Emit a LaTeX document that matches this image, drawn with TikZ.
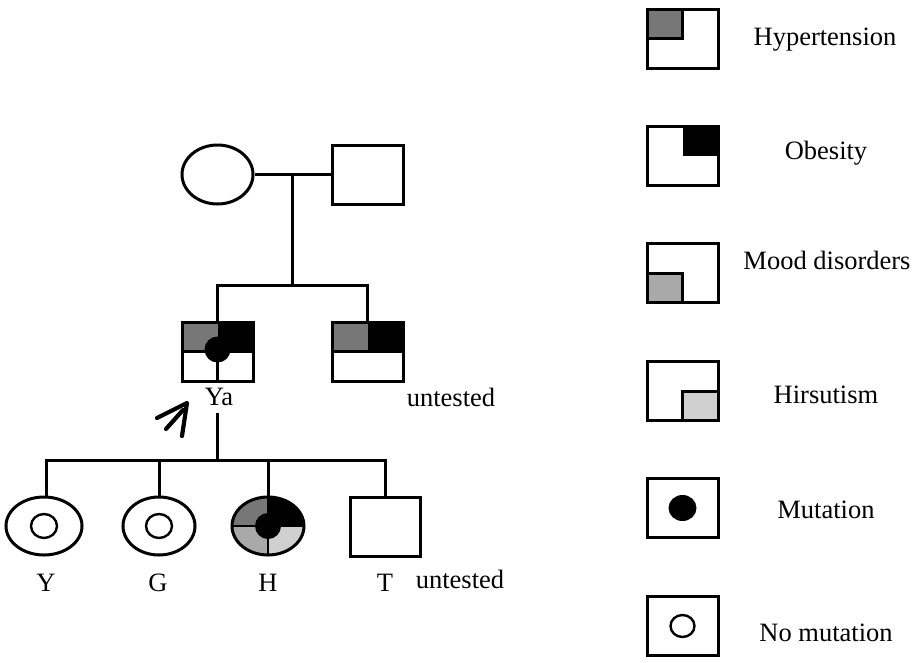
\documentclass[tikz,border=0pt]{standalone}
\usepackage{fontspec}
\setmainfont{Liberation Serif}
\usetikzlibrary{shapes.geometric}
\definecolor{hypc}{HTML}{777777}
\definecolor{moodc}{HTML}{A9A9A9}
\definecolor{hirc}{HTML}{D0D0D0}
\tikzset{
  ln/.style={line width=3pt},
  sq/.style={draw,line width=3pt,rectangle,minimum width=71pt,minimum height=59pt,inner sep=0pt},
  ov/.style={draw,line width=3pt,ellipse,minimum width=72pt,minimum height=58pt,inner sep=0pt},
  lbl/.style={font=\fontsize{26.5}{30}\selectfont,inner sep=0pt},
}
\newcommand{\PB}{path picture bounding box}
\begin{document}
\begin{tikzpicture}[x=1pt,y=-1pt]
\useasboundingbox (0,0) rectangle (915,662);
% generation I
\node[ov,minimum width=71pt,minimum height=59pt] (mother) at (217.5,174.5) {};
\node[sq] (father) at (367.5,174.5) {};
\coordinate (m1) at (292.7,174.5);
\coordinate (m2) at (292.7,285);
\coordinate (s1) at (217.5,285);
\coordinate (s2) at (367.5,285);
\draw[ln] (mother.east) -- (father.west);
\draw[ln] (m1) -- (m2);
\draw[ln,line cap=rect] (s1) -- (s2);
% generation II
\node[sq,path picture={
  \fill[hypc] (\PB.north west) rectangle (\PB.center);
  \fill[black] (\PB.north east) rectangle (\PB.center);
  \draw[line width=3pt] (\PB.west) -- (\PB.east);
  \draw[line width=3pt] (\PB.center) -- (\PB.south);
  \fill[black] ([yshift=2pt]\PB.center) circle (13pt);
}] (ya) at (217.5,351.5) {};
\node[sq,path picture={
  \fill[hypc] (\PB.north west) rectangle (\PB.center);
  \fill[black] (\PB.north east) rectangle (\PB.center);
  \draw[line width=3pt] (\PB.west) -- (\PB.east);
}] (bro) at (367.5,351.5) {};
\draw[ln] (s1) -- (ya.north);
\draw[ln] (s2) -- (bro.north);
\node[lbl] (yalbl) at (219,397) {Ya};
\node[lbl] (untest1) at (451,397) {untested};
% proband arrow
\draw[line width=4.2pt,line cap=round,line join=round] (157,418) -- (187,403) -- (182,436);
\draw[line width=4.2pt,line cap=round] (166,429) -- (183,410);
% generation III
\coordinate (d1) at (217.5,413);
\coordinate (d2) at (217.5,460);
\coordinate (c1) at (46.7,460);
\coordinate (c4) at (385,460);
\draw[ln] (d1) -- (d2);
\draw[ln,line cap=rect] (c1) -- (c4);
\node[ov,minimum width=76pt] (y) at (44,526) {};
\node[ov,minimum width=72pt] (g) at (159,526) {};
\node[ov,path picture={
  \fill[hypc] (\PB.north west) rectangle (\PB.center);
  \fill[black] (\PB.north east) rectangle (\PB.center);
  \fill[moodc] (\PB.south west) rectangle (\PB.center);
  \fill[hirc] (\PB.south east) rectangle (\PB.center);
  \draw[line width=2pt] (\PB.west) -- (\PB.east);
  \draw[line width=2pt] (\PB.north) -- (\PB.south);
  \fill[black] (\PB.center) circle (13pt);
}] (h) at (268,526) {};
\node[sq,minimum width=70pt] (t) at (385,526.5) {};
\draw[line width=2.4pt] (y.center) ellipse (13pt and 12pt);
\draw[line width=2.4pt] (g.center) ellipse (13pt and 12pt);
\draw[ln] (c1) -- (c1 |- y.north);
\draw[ln] (g.north |- c1) -- (g.north);
\draw[ln] (h.north |- c1) -- (h.north);
\draw[ln] (t.north |- c1) -- (t.north);
\node[lbl] (ylbl) at (46,583) {Y};
\node[lbl] (glbl) at (158,583) {G};
\node[lbl] (hlbl) at (268,583) {H};
\node[lbl] (tlbl) at (385,583) {T};
\node[lbl] (untest2) at (460,579) {untested};
% legend
\node[sq,path picture={\fill[hypc] (\PB.north west) rectangle (\PB.center);
  \draw[line width=3pt] (\PB.north) -- (\PB.center) -- (\PB.west);}] (l1) at (682.5,38.5) {};
\node[sq,path picture={\fill[black] (\PB.north east) rectangle (\PB.center);}] (l2) at (682.5,155.5) {};
\node[sq,path picture={\fill[moodc] (\PB.south west) rectangle (\PB.center);
  \draw[line width=3pt] (\PB.south) -- (\PB.center) -- (\PB.west);}] (l3) at (682.5,273) {};
\node[sq,path picture={\fill[hirc] (\PB.south east) rectangle (\PB.center);
  \draw[line width=3pt] (\PB.south) -- (\PB.center) -- (\PB.east);}] (l4) at (682.5,391) {};
\node[sq,path picture={\fill[black] (\PB.center) ellipse (14pt and 13pt);}] (l5) at (682.5,508) {};
\node[sq,path picture={\draw[line width=2.4pt] (\PB.center) ellipse (12pt and 11pt);}] (l6) at (682.5,626) {};
\node[lbl] (t1) at (825,40) {Hypertension};
\node[lbl] (t2) at (826,153) {Obesity};
\node[lbl] (t3) at (827,260) {Mood disorders};
\node[lbl] (t4) at (826,395) {Hirsutism};
\node[lbl] (t5) at (826,510) {Mutation};
\node[lbl] (t6) at (826,633) {No mutation};
\end{tikzpicture}
\end{document}
